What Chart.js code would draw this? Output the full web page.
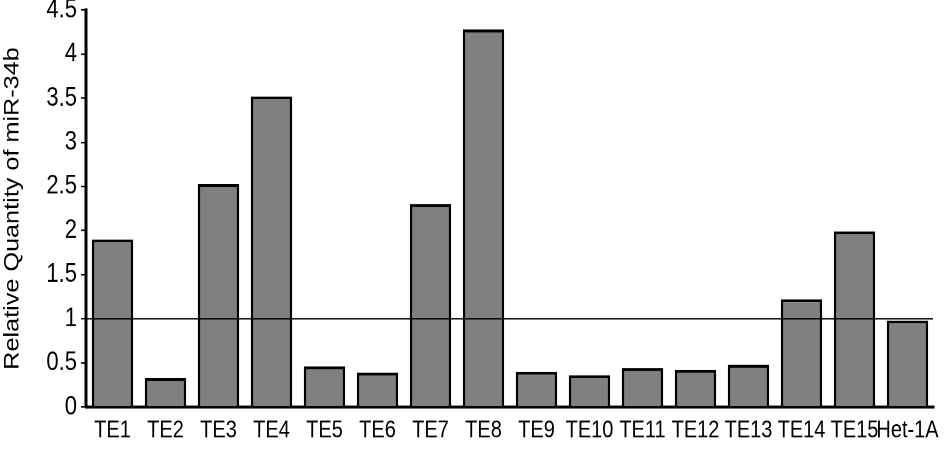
<!DOCTYPE html>
<html>
<head>
<meta charset="utf-8">
<script src="https://cdn.jsdelivr.net/npm/chart.js@4/dist/chart.umd.min.js"></script>
<style>
html,body{margin:0;padding:0;background:#fff;overflow:hidden;}
#wrap{width:945px;height:471px;position:relative;overflow:hidden;}
#c{position:absolute;left:0;top:0;transform-origin:0 0;transform:scaleY(1.20153);}
</style>
</head>
<body>
<div id="wrap"><canvas id="c" width="945" height="392"></canvas></div>
<script>
const categories = ['TE1','TE2','TE3','TE4','TE5','TE6','TE7','TE8','TE9','TE10','TE11','TE12','TE13','TE14','TE15','Het-1A'];
const relativeQuantity = [1.90,0.33,2.53,3.52,0.46,0.39,2.30,4.28,0.40,0.36,0.44,0.42,0.48,1.22,1.99,0.98];
const yTickValues = [0,0.5,1,1.5,2,2.5,3,3.5,4,4.5];
const referenceLevel = 1;
const yAxisTitle = 'Relative Quantity of miR-34b';

const FONT = '"Liberation Sans", Arial, Helvetica, sans-serif';

const refLinePlugin = {
  id: 'refLine',
  afterDatasetsDraw(chart) {
    const {ctx, chartArea: a, scales: {y}} = chart;
    const py = y.getPixelForValue(referenceLevel);
    ctx.save();
    ctx.strokeStyle = '#000';
    ctx.lineWidth = 1.3;
    ctx.beginPath();
    ctx.moveTo(a.left, py);
    ctx.lineTo(a.right - 1, py);
    ctx.stroke();
    ctx.restore();
  }
};

new Chart(document.getElementById('c'), {
  type: 'bar',
  data: {
    labels: categories,
    datasets: [{
      data: relativeQuantity,
      backgroundColor: '#808080',
      borderColor: '#000',
      borderWidth: 2.5,
      borderSkipped: 'bottom',
      barPercentage: 0.78,
      categoryPercentage: 1.0
    }]
  },
  options: {
    responsive: false,
    animation: false,
    devicePixelRatio: 2,
    layout: { padding: { left: 0, right: 11, top: 8.3, bottom: 0 } },
    plugins: { legend: { display: false }, tooltip: { enabled: false } },
    scales: {
      x: {
        grid: { display: false },
        border: { display: true, color: '#000', width: 2.5 },
        ticks: { color: '#000', font: { family: FONT, size: 20 }, padding: 0, maxRotation: 0, autoSkip: false },
        afterFit(scale) { scale.height = 53.3; scale.paddingLeft = 0; scale.paddingRight = 0; }
      },
      y: {
        min: 0,
        max: 4.5,
        afterBuildTicks(scale) { scale.ticks = yTickValues.map(v => ({ value: v })); },
        grid: { display: true, drawOnChartArea: false, drawTicks: true, tickLength: 5, color: '#000', lineWidth: 1.3 },
        border: { display: true, color: '#000', width: 3 },
        ticks: { color: '#000', font: { family: FONT, size: 22 }, padding: 4, callback: v => String(v) },
        title: { display: true, text: yAxisTitle, color: '#000', font: { family: FONT, size: 21 }, padding: { top: 0, bottom: 4 } },
        afterFit(scale) { scale.width = 86; scale.paddingTop = 0; scale.paddingBottom = 0; }
      }
    }
  },
  plugins: [refLinePlugin]
});
</script>
</body>
</html>
